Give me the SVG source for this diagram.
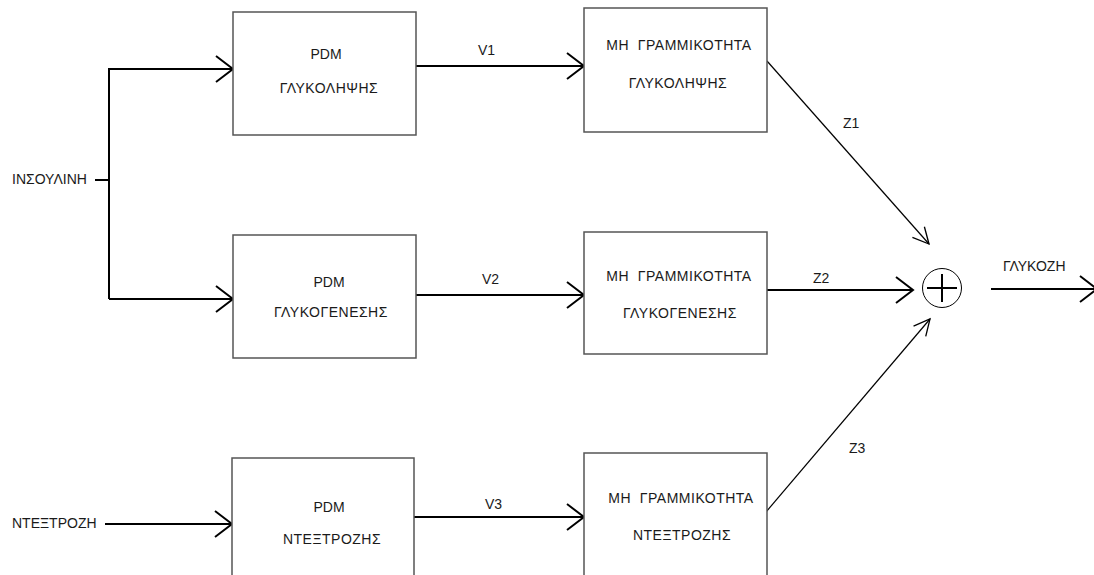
<svg xmlns="http://www.w3.org/2000/svg" width="1094" height="575" viewBox="0 0 1094 575">
<defs>
<style>
.box{fill:#fff;stroke:#555;stroke-width:1.5}
.t{font-family:"Liberation Sans",Arial,sans-serif;font-size:14px;fill:#1a1a1a;text-anchor:middle}
.tl{font-family:"Liberation Sans",Arial,sans-serif;font-size:14px;fill:#1a1a1a}
.ls{letter-spacing:0.5px}
.w{fill:none;stroke:#000;stroke-width:2}
.d{fill:none;stroke:#000;stroke-width:1.2}
</style>
<marker id="arr" markerUnits="userSpaceOnUse" markerWidth="40" markerHeight="40" refX="0" refY="0" viewBox="-20 -20 40 40" orient="auto" overflow="visible">
<path d="M-17,-13 L0,0 L-17,13" fill="none" stroke="#000" stroke-width="2"/>
</marker>
<marker id="arrd" markerUnits="userSpaceOnUse" markerWidth="40" markerHeight="40" refX="0" refY="0" viewBox="-30 -30 60 60" orient="auto" overflow="visible">
<path d="M-24,-12 L0,0 L-24,12" fill="none" stroke="#000" stroke-width="2"/>
</marker>
</defs>
<rect width="1094" height="575" fill="#fff"/>

<g id="connectors">
<path class="w" d="M95,180 H109"/>
<path class="w" d="M109,299 V69 H233" marker-end="url(#arr)"/>
<path class="w" d="M109,299 H233" marker-end="url(#arr)"/>
<path class="w" d="M105,524 H232" marker-end="url(#arr)"/>
<path class="w" d="M416,66 H584" marker-end="url(#arr)"/>
<path class="w" d="M416,295 H584" marker-end="url(#arr)"/>
<path class="w" d="M414,517 H584" marker-end="url(#arr)"/>
<path class="d" d="M767,61 L929,244" marker-end="url(#arrd)"/>
<path class="w" d="M767,290 H913" marker-end="url(#arr)"/>
<path class="d" d="M766,512 L930,319" marker-end="url(#arrd)"/>
<path class="w" d="M991,289 H1097" marker-end="url(#arr)"/>
<text class="tl" x="478" y="55">V1</text>
<text class="tl" x="482" y="284">V2</text>
<text class="tl" x="485" y="509">V3</text>
<text class="tl" x="843" y="128">Z1</text>
<text class="tl" x="813" y="283">Z2</text>
<text class="tl" x="849" y="453">Z3</text>
<text class="tl" x="1003" y="271">ΓΛΥΚΟΖΗ</text>
</g>

<g id="in-insulin"><text class="tl" x="12" y="184">ΙΝΣΟΥΛΙΝΗ</text></g>
<g id="in-dextrose"><text class="tl" x="12" y="528">ΝΤΕΞΤΡΟΖΗ</text></g>

<g id="pdm1">
<rect class="box" x="233" y="12" width="183" height="123"/>
<text class="t" x="326" y="59">PDM</text>
<text class="t ls" x="329" y="93">ΓΛΥΚΟΛΗΨΗΣ</text>
</g>
<g id="pdm2">
<rect class="box" x="233" y="235" width="183" height="123"/>
<text class="t" x="329" y="287">PDM</text>
<text class="t ls" x="331" y="317">ΓΛΥΚΟΓΕΝΕΣΗΣ</text>
</g>
<g id="pdm3">
<rect class="box" x="232" y="458" width="182" height="130"/>
<text class="t" x="329" y="512">PDM</text>
<text class="t ls" x="332" y="544">ΝΤΕΞΤΡΟΖΗΣ</text>
</g>
<g id="nl1">
<rect class="box" x="584" y="8" width="183" height="124"/>
<text class="t ls" x="679" y="50">ΜΗ&#160;&#160;ΓΡΑΜΜΙΚΟΤΗΤΑ</text>
<text class="t ls" x="678" y="88">ΓΛΥΚΟΛΗΨΗΣ</text>
</g>
<g id="nl2">
<rect class="box" x="584" y="232" width="183" height="122"/>
<text class="t ls" x="679" y="281">ΜΗ&#160;&#160;ΓΡΑΜΜΙΚΟΤΗΤΑ</text>
<text class="t ls" x="680" y="318">ΓΛΥΚΟΓΕΝΕΣΗΣ</text>
</g>
<g id="nl3">
<rect class="box" x="584" y="453" width="183" height="135"/>
<text class="t ls" x="681" y="503">ΜΗ&#160;&#160;ΓΡΑΜΜΙΚΟΤΗΤΑ</text>
<text class="t ls" x="682" y="540">ΝΤΕΞΤΡΟΖΗΣ</text>
</g>
<g id="sum">
<circle cx="942" cy="288" r="19.5" fill="#fff" stroke="#000" stroke-width="1"/>
<path d="M927,288 H957 M942,274 V302" stroke="#000" stroke-width="2" fill="none"/>
</g>
</svg>
